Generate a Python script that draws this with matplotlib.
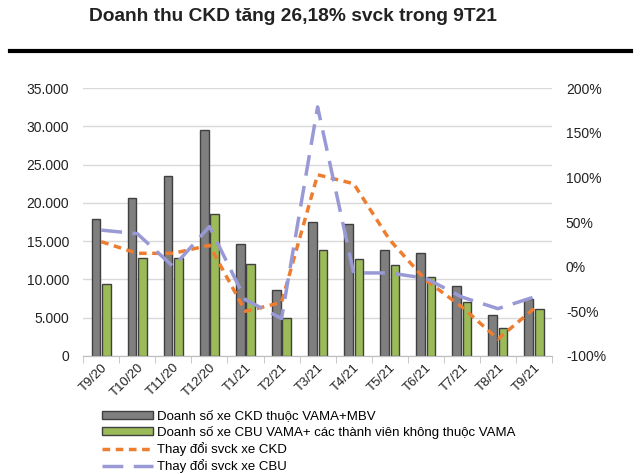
import matplotlib
matplotlib.use("Agg")
import matplotlib.pyplot as plt
import numpy as np
from matplotlib.patches import Patch
from matplotlib.lines import Line2D

plt.rcParams['font.family'] = ['Liberation Sans', 'DejaVu Sans']

categories = ["T9/20", "T10/20", "T11/20", "T12/20", "T1/21", "T2/21", "T3/21",
              "T4/21", "T5/21", "T6/21", "T7/21", "T8/21", "T9/21"]
ckd_sales = [17850, 20600, 23500, 29500, 14600, 8600, 17500, 17300, 13900, 13400, 9100, 5300, 7500]
cbu_sales = [9400, 12800, 12800, 18500, 12000, 5000, 13900, 12650, 11850, 10300, 7050, 3600, 6200]
ckd_change = [28, 15, 15, 24, -50, -40, 103, 93, 30, -15, -45, -81, -47]
cbu_change = [41, 37, 0, 45, -37, -58, 179, -7, -7, -13, -34, -47, -34]
left_ticks = [0, 5000, 10000, 15000, 20000, 25000, 30000, 35000]
right_ticks = [-100, -50, 0, 50, 100, 150, 200]

fig = plt.figure(figsize=(6.4, 4.74), dpi=100)
ax = fig.add_axes([0.13, 0.249, 0.7325, 0.565])
ax2 = ax.twinx()

x = np.arange(len(categories))
w = 0.24
ax.bar(x - 0.145, ckd_sales, w, color='#7f7f7f', edgecolor='#404040', linewidth=1.0, zorder=2)
ax.bar(x + 0.145, cbu_sales, w, color='#9bbb59', edgecolor='#404040', linewidth=1.0, zorder=2)

ax.set_xlim(-0.5, len(categories) - 0.5)
ax.set_ylim(0, 35000)
ax.set_yticks(left_ticks)
ax.set_yticklabels([f"{v:,}".replace(",", ".") for v in left_ticks], fontsize=10, color='#222222')
ax.grid(axis='y', color='#d9d9d9', linewidth=1.0, zorder=0)
ax.set_axisbelow(True)

ax.set_xticks(x)
ax.set_xticklabels(categories, rotation=45, ha='right', rotation_mode='anchor', fontsize=9.5, color='#222222')
ax.tick_params(axis='x', length=0, pad=4)
ax.set_xticks(np.arange(-0.5, len(categories), 1), minor=True)
ax.tick_params(axis='x', which='minor', length=5, color='#bfbfbf')
ax.tick_params(axis='y', length=0, pad=10)

for a in (ax, ax2):
    for s in ['top', 'right', 'left']:
        a.spines[s].set_visible(False)
    a.spines['bottom'].set_color('#bfbfbf')

ax2.plot(x, ckd_change, color='#ed7d31', linewidth=2.5, dashes=(2.2, 1.6), zorder=3)
ax2.plot(x, cbu_change, color='#9999d6', linewidth=2.5, dashes=(6, 3), zorder=3)
ax2.set_ylim(-100, 200)
ax2.set_yticks(right_ticks)
ax2.set_yticklabels([f"{v}%" for v in right_ticks], fontsize=10, color='#222222')
ax2.tick_params(axis='y', length=0, pad=10)

fig.text(0.458, 0.965, "Doanh thu CKD tăng 26,18% svck trong 9T21", ha='center', va='center',
         fontsize=13.8, fontweight='bold', color='#222222')
fig.add_artist(Line2D([0.016, 0.986], [0.892, 0.892], color='black', linewidth=3, transform=fig.transFigure))

handles = [
    Patch(facecolor='#7f7f7f', edgecolor='#404040', linewidth=1.0),
    Patch(facecolor='#9bbb59', edgecolor='#404040', linewidth=1.0),
    Line2D([0], [0], color='#ed7d31', linewidth=2.5, dashes=(2.2, 1.6)),
    Line2D([0], [0], color='#9999d6', linewidth=2.5, dashes=(6, 3)),
]
labels = ["Doanh số xe CKD thuộc VAMA+MBV",
          "Doanh số xe CBU VAMA+ các thành viên không thuộc VAMA",
          "Thay đổi svck xe CKD",
          "Thay đổi svck xe CBU"]
fig.legend(handles, labels, loc='upper left', bbox_to_anchor=(0.151, 0.145), frameon=False,
           fontsize=9.5, handlelength=3.9, handleheight=0.5, handletextpad=0.25, labelspacing=0.25,
           borderaxespad=0, bbox_transform=fig.transFigure)

fig.savefig("out.png", dpi=100)
